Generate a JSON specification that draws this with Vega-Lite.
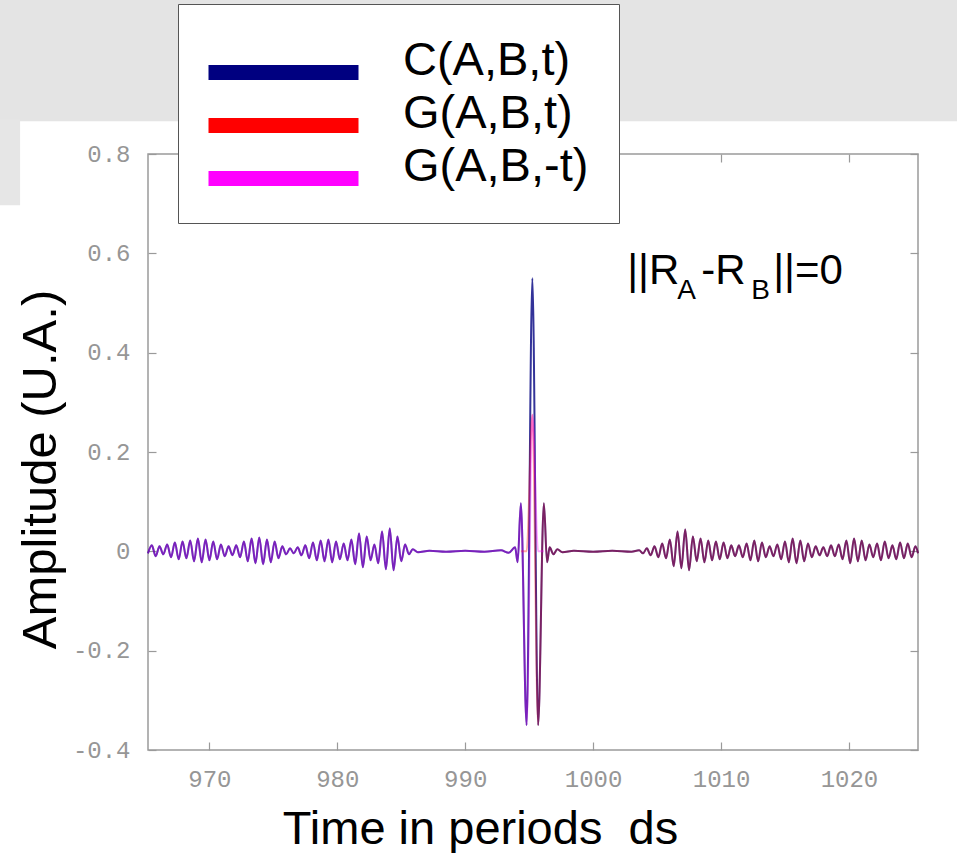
{
  "$schema": "https://vega.github.io/schema/vega-lite/v6.json",
  "width": 770,
  "height": 596,
  "autosize": {"type": "none"},
  "padding": {"left": 148, "top": 154, "right": 39, "bottom": 103},
  "background": "white",
  "config": {
    "view": {"stroke": "#9a9a9a", "strokeWidth": 1.5},
    "axis": {
      "domain": false, "grid": false, "tickColor": "#9a9a9a", "tickSize": -8, "tickWidth": 1.2,
      "labelFont": "Liberation Mono", "labelFontSize": 24, "labelColor": "#969696",
      "titleFont": "Liberation Sans", "titleColor": "black", "titleFontWeight": "normal"
    }
  },
  "datasets": {
    "wave": [
      {"t": 965.2, "C": -0.004, "Gm": -0.004},
      {"t": 965.5, "C": 0.012, "Gm": 0.012},
      {"t": 965.8, "C": -0.010, "Gm": -0.010},
      {"t": 966.1, "C": 0.010, "Gm": 0.010},
      {"t": 966.4, "C": -0.006, "Gm": -0.006},
      {"t": 966.7, "C": 0.014, "Gm": 0.014},
      {"t": 967.0, "C": -0.012, "Gm": -0.012},
      {"t": 967.3, "C": 0.018, "Gm": 0.018},
      {"t": 967.6, "C": -0.016, "Gm": -0.016},
      {"t": 967.9, "C": 0.020, "Gm": 0.020},
      {"t": 968.2, "C": -0.014, "Gm": -0.014},
      {"t": 968.5, "C": 0.022, "Gm": 0.022},
      {"t": 968.8, "C": -0.020, "Gm": -0.020},
      {"t": 969.1, "C": 0.026, "Gm": 0.026},
      {"t": 969.4, "C": -0.022, "Gm": -0.022},
      {"t": 969.7, "C": 0.024, "Gm": 0.024},
      {"t": 970.0, "C": -0.018, "Gm": -0.018},
      {"t": 970.3, "C": 0.020, "Gm": 0.020},
      {"t": 970.6, "C": -0.016, "Gm": -0.016},
      {"t": 970.9, "C": 0.014, "Gm": 0.014},
      {"t": 971.2, "C": -0.010, "Gm": -0.010},
      {"t": 971.5, "C": 0.010, "Gm": 0.010},
      {"t": 971.8, "C": -0.008, "Gm": -0.008},
      {"t": 972.1, "C": 0.012, "Gm": 0.012},
      {"t": 972.4, "C": -0.012, "Gm": -0.012},
      {"t": 972.7, "C": 0.020, "Gm": 0.020},
      {"t": 973.0, "C": -0.020, "Gm": -0.020},
      {"t": 973.3, "C": 0.026, "Gm": 0.026},
      {"t": 973.6, "C": -0.024, "Gm": -0.024},
      {"t": 973.9, "C": 0.028, "Gm": 0.028},
      {"t": 974.2, "C": -0.026, "Gm": -0.026},
      {"t": 974.5, "C": 0.024, "Gm": 0.024},
      {"t": 974.8, "C": -0.022, "Gm": -0.022},
      {"t": 975.1, "C": 0.020, "Gm": 0.020},
      {"t": 975.4, "C": -0.014, "Gm": -0.014},
      {"t": 975.7, "C": 0.010, "Gm": 0.010},
      {"t": 976.0, "C": -0.006, "Gm": -0.006},
      {"t": 976.3, "C": 0.006, "Gm": 0.006},
      {"t": 976.6, "C": -0.004, "Gm": -0.004},
      {"t": 976.9, "C": 0.008, "Gm": 0.008},
      {"t": 977.2, "C": -0.008, "Gm": -0.008},
      {"t": 977.5, "C": 0.012, "Gm": 0.012},
      {"t": 977.8, "C": -0.014, "Gm": -0.014},
      {"t": 978.1, "C": 0.018, "Gm": 0.018},
      {"t": 978.4, "C": -0.018, "Gm": -0.018},
      {"t": 978.7, "C": 0.022, "Gm": 0.022},
      {"t": 979.0, "C": -0.020, "Gm": -0.020},
      {"t": 979.3, "C": 0.024, "Gm": 0.024},
      {"t": 979.6, "C": -0.022, "Gm": -0.022},
      {"t": 979.9, "C": 0.020, "Gm": 0.020},
      {"t": 980.2, "C": -0.016, "Gm": -0.016},
      {"t": 980.5, "C": 0.016, "Gm": 0.016},
      {"t": 980.8, "C": -0.018, "Gm": -0.018},
      {"t": 981.1, "C": 0.024, "Gm": 0.024},
      {"t": 981.4, "C": -0.026, "Gm": -0.026},
      {"t": 981.7, "C": 0.036, "Gm": 0.036},
      {"t": 982.0, "C": -0.032, "Gm": -0.032},
      {"t": 982.3, "C": 0.030, "Gm": 0.030},
      {"t": 982.6, "C": -0.018, "Gm": -0.018},
      {"t": 982.9, "C": 0.014, "Gm": 0.014},
      {"t": 983.2, "C": -0.024, "Gm": -0.024},
      {"t": 983.5, "C": 0.040, "Gm": 0.040},
      {"t": 983.8, "C": -0.036, "Gm": -0.036},
      {"t": 984.1, "C": 0.046, "Gm": 0.046},
      {"t": 984.4, "C": -0.038, "Gm": -0.038},
      {"t": 984.7, "C": 0.030, "Gm": 0.030},
      {"t": 985.0, "C": -0.020, "Gm": -0.020},
      {"t": 985.3, "C": 0.014, "Gm": 0.014},
      {"t": 985.6, "C": -0.006, "Gm": -0.006},
      {"t": 985.9, "C": 0.004, "Gm": 0.004},
      {"t": 986.3, "C": -0.002, "Gm": -0.002},
      {"t": 987.2, "C": 0.001, "Gm": 0.001},
      {"t": 988.5, "C": -0.001, "Gm": -0.001},
      {"t": 990.0, "C": 0.001, "Gm": 0.001},
      {"t": 991.5, "C": -0.001, "Gm": -0.001},
      {"t": 992.8, "C": 0.002, "Gm": 0.002},
      {"t": 993.4, "C": -0.003, "Gm": -0.003},
      {"t": 993.9, "C": 0.008, "Gm": 0.008},
      {"t": 994.1, "C": -0.022, "Gm": -0.022},
      {"t": 994.35, "C": 0.097, "Gm": 0.097, "Gp": 0},
      {"t": 994.8, "C": -0.35, "Gm": -0.35, "Gp": 0},
      {"t": 995.25, "C": 0.55, "Gm": 0.275, "Gp": 0.275},
      {"t": 995.7, "C": -0.35, "Gm": 0, "Gp": -0.35},
      {"t": 996.15, "C": 0.097, "Gm": 0, "Gp": 0.097},
      {"t": 996.4, "C": -0.022, "Gp": -0.022},
      {"t": 996.6, "C": 0.008, "Gp": 0.008},
      {"t": 996.9, "C": -0.006, "Gp": -0.006},
      {"t": 997.2, "C": 0.004, "Gp": 0.004},
      {"t": 997.6, "C": -0.002, "Gp": -0.002},
      {"t": 998.5, "C": 0.001, "Gp": 0.001},
      {"t": 1000.0, "C": -0.001, "Gp": -0.001},
      {"t": 1001.5, "C": 0.001, "Gp": 0.001},
      {"t": 1003.0, "C": -0.001, "Gp": -0.001},
      {"t": 1003.6, "C": 0.002, "Gp": 0.002},
      {"t": 1003.9, "C": -0.004, "Gp": -0.004},
      {"t": 1004.2, "C": 0.006, "Gp": 0.006},
      {"t": 1004.5, "C": -0.008, "Gp": -0.008},
      {"t": 1004.8, "C": 0.010, "Gp": 0.010},
      {"t": 1005.1, "C": -0.012, "Gp": -0.012},
      {"t": 1005.4, "C": 0.016, "Gp": 0.016},
      {"t": 1005.7, "C": -0.014, "Gp": -0.014},
      {"t": 1006.0, "C": 0.024, "Gp": 0.024},
      {"t": 1006.3, "C": -0.030, "Gp": -0.030},
      {"t": 1006.6, "C": 0.040, "Gp": 0.040},
      {"t": 1006.9, "C": -0.034, "Gp": -0.034},
      {"t": 1007.2, "C": 0.044, "Gp": 0.044},
      {"t": 1007.5, "C": -0.038, "Gp": -0.038},
      {"t": 1007.8, "C": 0.030, "Gp": 0.030},
      {"t": 1008.1, "C": -0.020, "Gp": -0.020},
      {"t": 1008.4, "C": 0.026, "Gp": 0.026},
      {"t": 1008.7, "C": -0.022, "Gp": -0.022},
      {"t": 1009.0, "C": 0.022, "Gp": 0.022},
      {"t": 1009.3, "C": -0.018, "Gp": -0.018},
      {"t": 1009.6, "C": 0.020, "Gp": 0.020},
      {"t": 1009.9, "C": -0.016, "Gp": -0.016},
      {"t": 1010.2, "C": 0.018, "Gp": 0.018},
      {"t": 1010.5, "C": -0.014, "Gp": -0.014},
      {"t": 1010.8, "C": 0.012, "Gp": 0.012},
      {"t": 1011.1, "C": -0.010, "Gp": -0.010},
      {"t": 1011.4, "C": 0.012, "Gp": 0.012},
      {"t": 1011.7, "C": -0.012, "Gp": -0.012},
      {"t": 1012.0, "C": 0.016, "Gp": 0.016},
      {"t": 1012.3, "C": -0.018, "Gp": -0.018},
      {"t": 1012.6, "C": 0.022, "Gp": 0.022},
      {"t": 1012.9, "C": -0.020, "Gp": -0.020},
      {"t": 1013.2, "C": 0.018, "Gp": 0.018},
      {"t": 1013.5, "C": -0.012, "Gp": -0.012},
      {"t": 1013.8, "C": 0.010, "Gp": 0.010},
      {"t": 1014.1, "C": -0.010, "Gp": -0.010},
      {"t": 1014.4, "C": 0.014, "Gp": 0.014},
      {"t": 1014.7, "C": -0.016, "Gp": -0.016},
      {"t": 1015.0, "C": 0.020, "Gp": 0.020},
      {"t": 1015.3, "C": -0.022, "Gp": -0.022},
      {"t": 1015.6, "C": 0.026, "Gp": 0.026},
      {"t": 1015.9, "C": -0.024, "Gp": -0.024},
      {"t": 1016.2, "C": 0.022, "Gp": 0.022},
      {"t": 1016.5, "C": -0.020, "Gp": -0.020},
      {"t": 1016.8, "C": 0.016, "Gp": 0.016},
      {"t": 1017.1, "C": -0.012, "Gp": -0.012},
      {"t": 1017.4, "C": 0.010, "Gp": 0.010},
      {"t": 1017.7, "C": -0.008, "Gp": -0.008},
      {"t": 1018.0, "C": 0.008, "Gp": 0.008},
      {"t": 1018.3, "C": -0.010, "Gp": -0.010},
      {"t": 1018.6, "C": 0.012, "Gp": 0.012},
      {"t": 1018.9, "C": -0.010, "Gp": -0.010},
      {"t": 1019.2, "C": 0.014, "Gp": 0.014},
      {"t": 1019.5, "C": -0.016, "Gp": -0.016},
      {"t": 1019.8, "C": 0.022, "Gp": 0.022},
      {"t": 1020.1, "C": -0.024, "Gp": -0.024},
      {"t": 1020.4, "C": 0.026, "Gp": 0.026},
      {"t": 1020.7, "C": -0.020, "Gp": -0.020},
      {"t": 1021.0, "C": 0.022, "Gp": 0.022},
      {"t": 1021.3, "C": -0.018, "Gp": -0.018},
      {"t": 1021.6, "C": 0.014, "Gp": 0.014},
      {"t": 1021.9, "C": -0.012, "Gp": -0.012},
      {"t": 1022.2, "C": 0.016, "Gp": 0.016},
      {"t": 1022.5, "C": -0.018, "Gp": -0.018},
      {"t": 1022.8, "C": 0.020, "Gp": 0.020},
      {"t": 1023.1, "C": -0.014, "Gp": -0.014},
      {"t": 1023.4, "C": 0.012, "Gp": 0.012},
      {"t": 1023.7, "C": -0.016, "Gp": -0.016},
      {"t": 1024.0, "C": 0.018, "Gp": 0.018},
      {"t": 1024.3, "C": -0.014, "Gp": -0.014},
      {"t": 1024.6, "C": 0.016, "Gp": 0.016},
      {"t": 1024.9, "C": -0.012, "Gp": -0.012},
      {"t": 1025.2, "C": 0.010, "Gp": 0.010},
      {"t": 1025.4, "C": -0.004, "Gp": -0.004}
    ]
  },
  "data": {"name": "wave"},
  "layer": [
    {
      "data": {"values": [{}]},
      "mark": {"type": "rect", "color": "#e4e4e4", "clip": false},
      "encoding": {
        "x": {"datum": 940, "type": "quantitative", "axis": null},
        "x2": {"datum": 1050},
        "y": {"datum": 0.866, "type": "quantitative", "axis": null},
        "y2": {"datum": 2}
      }
    },
    {
      "data": {"values": [{}]},
      "mark": {"type": "rect", "color": "#e6e6e6", "clip": false},
      "encoding": {
        "x": {"datum": 940, "type": "quantitative", "axis": null},
        "x2": {"datum": 955.2},
        "y": {"datum": 0.697, "type": "quantitative", "axis": null},
        "y2": {"datum": 0.87}
      }
    },
    {
      "mark": {"type": "line", "strokeWidth": 2, "strokeOpacity": 0.8, "interpolate": "monotone"},
      "encoding": {
        "x": {
          "field": "t", "type": "quantitative",
          "scale": {"domain": [965.2, 1025.4], "nice": false, "zero": false},
          "axis": {
            "orient": "bottom", "values": [970, 980, 990, 1000, 1010, 1020], "format": "d",
            "labelPadding": 25,
            "title": "Time in periods\u00a0\u00a0ds", "titleFontSize": 47,
            "titleX": 332, "titleY": 93, "titleBaseline": "alphabetic", "titleAlign": "center"
          }
        },
        "y": {
          "field": "C", "type": "quantitative",
          "scale": {"domain": [-0.4, 0.8], "nice": false, "zero": false},
          "axis": {
            "orient": "left", "values": [-0.4, -0.2, 0, 0.2, 0.4, 0.6, 0.8],
            "labelExpr": "datum.value == 0 ? '0' : (datum.value < 0 ? '-' + format(-datum.value, '.1f') : format(datum.value, '.1f'))",
            "labelPadding": 26,
            "title": "Amplitude (U.A.)", "titleFontSize": 49, "titleAngle": 270,
            "titleX": -93, "titleY": 315, "titleBaseline": "alphabetic", "titleAlign": "center"
          }
        },
        "color": {
          "datum": "C(A,B,t)",
          "scale": {"domain": ["C(A,B,t)", "G(A,B,t)", "G(A,B,-t)"], "range": ["#000080", "#ff0000", "#ff00ff"]},
          "legend": {
            "orient": "none", "legendX": 30, "legendY": -150, "title": null,
            "symbolType": "M-5,0.8H5", "symbolSize": 900, "symbolStrokeWidth": 15, "symbolOffset": 52, "symbolOpacity": 1,
            "labelFont": "Liberation Sans", "labelFontSize": 47, "labelColor": "black",
            "labelBaseline": "middle", "labelOffset": 96, "labelLimit": 400,
            "clipHeight": 53, "rowPadding": 0, "padding": 30,
            "fillColor": "white", "strokeColor": "#555555",
            "encode": {"symbols": {"update": {"opacity": {"value": 1}, "strokeOpacity": {"value": 1}}}}
          }
        }
      }
    },
    {
      "mark": {"type": "line", "strokeWidth": 2, "strokeOpacity": 0.35, "interpolate": "monotone"},
      "encoding": {
        "x": {"field": "t", "type": "quantitative", "axis": null},
        "y": {"field": "Gp", "type": "quantitative", "axis": null},
        "color": {"datum": "G(A,B,t)"}
      }
    },
    {
      "mark": {"type": "line", "strokeWidth": 2, "strokeOpacity": 0.35, "interpolate": "monotone"},
      "encoding": {
        "x": {"field": "t", "type": "quantitative", "axis": null},
        "y": {"field": "Gm", "type": "quantitative", "axis": null},
        "color": {"datum": "G(A,B,-t)"}
      }
    },
    {
      "data": {"values": [{}]},
      "mark": {"type": "point", "opacity": 0},
      "encoding": {
        "x": {"datum": 1000, "type": "quantitative", "axis": {"orient": "top", "labels": false, "title": null, "values": [970, 980, 990, 1000, 1010, 1020]}},
        "y": {"datum": 0, "type": "quantitative", "axis": {"orient": "right", "labels": false, "title": null, "values": [-0.4, -0.2, 0, 0.2, 0.4, 0.6, 0.8]}}
      }
    },
    {
      "data": {"values": [{}]},
      "mark": {"type": "text", "font": "Liberation Sans", "fontSize": 42, "align": "left", "baseline": "alphabetic", "color": "black"},
      "encoding": {
        "x": {"datum": 1002.66, "type": "quantitative", "axis": null},
        "y": {"datum": 0.538, "type": "quantitative", "axis": null},
        "text": {"value": "||R"}
      }
    },
    {
      "data": {"values": [{}]},
      "mark": {"type": "text", "font": "Liberation Sans", "fontSize": 28, "align": "left", "baseline": "alphabetic", "color": "black", "dx": 50, "dy": 15},
      "encoding": {
        "x": {"datum": 1002.66, "type": "quantitative", "axis": null},
        "y": {"datum": 0.538, "type": "quantitative", "axis": null},
        "text": {"value": "A"}
      }
    },
    {
      "data": {"values": [{}]},
      "mark": {"type": "text", "font": "Liberation Sans", "fontSize": 42, "align": "left", "baseline": "alphabetic", "color": "black", "dx": 74},
      "encoding": {
        "x": {"datum": 1002.66, "type": "quantitative", "axis": null},
        "y": {"datum": 0.538, "type": "quantitative", "axis": null},
        "text": {"value": "-R"}
      }
    },
    {
      "data": {"values": [{}]},
      "mark": {"type": "text", "font": "Liberation Sans", "fontSize": 28, "align": "left", "baseline": "alphabetic", "color": "black", "dx": 124, "dy": 15},
      "encoding": {
        "x": {"datum": 1002.66, "type": "quantitative", "axis": null},
        "y": {"datum": 0.538, "type": "quantitative", "axis": null},
        "text": {"value": "B"}
      }
    },
    {
      "data": {"values": [{}]},
      "mark": {"type": "text", "font": "Liberation Sans", "fontSize": 42, "align": "left", "baseline": "alphabetic", "color": "black", "dx": 146},
      "encoding": {
        "x": {"datum": 1002.66, "type": "quantitative", "axis": null},
        "y": {"datum": 0.538, "type": "quantitative", "axis": null},
        "text": {"value": "||=0"}
      }
    }
  ],
  "resolve": {"axis": {"x": "independent", "y": "independent"}}
}
